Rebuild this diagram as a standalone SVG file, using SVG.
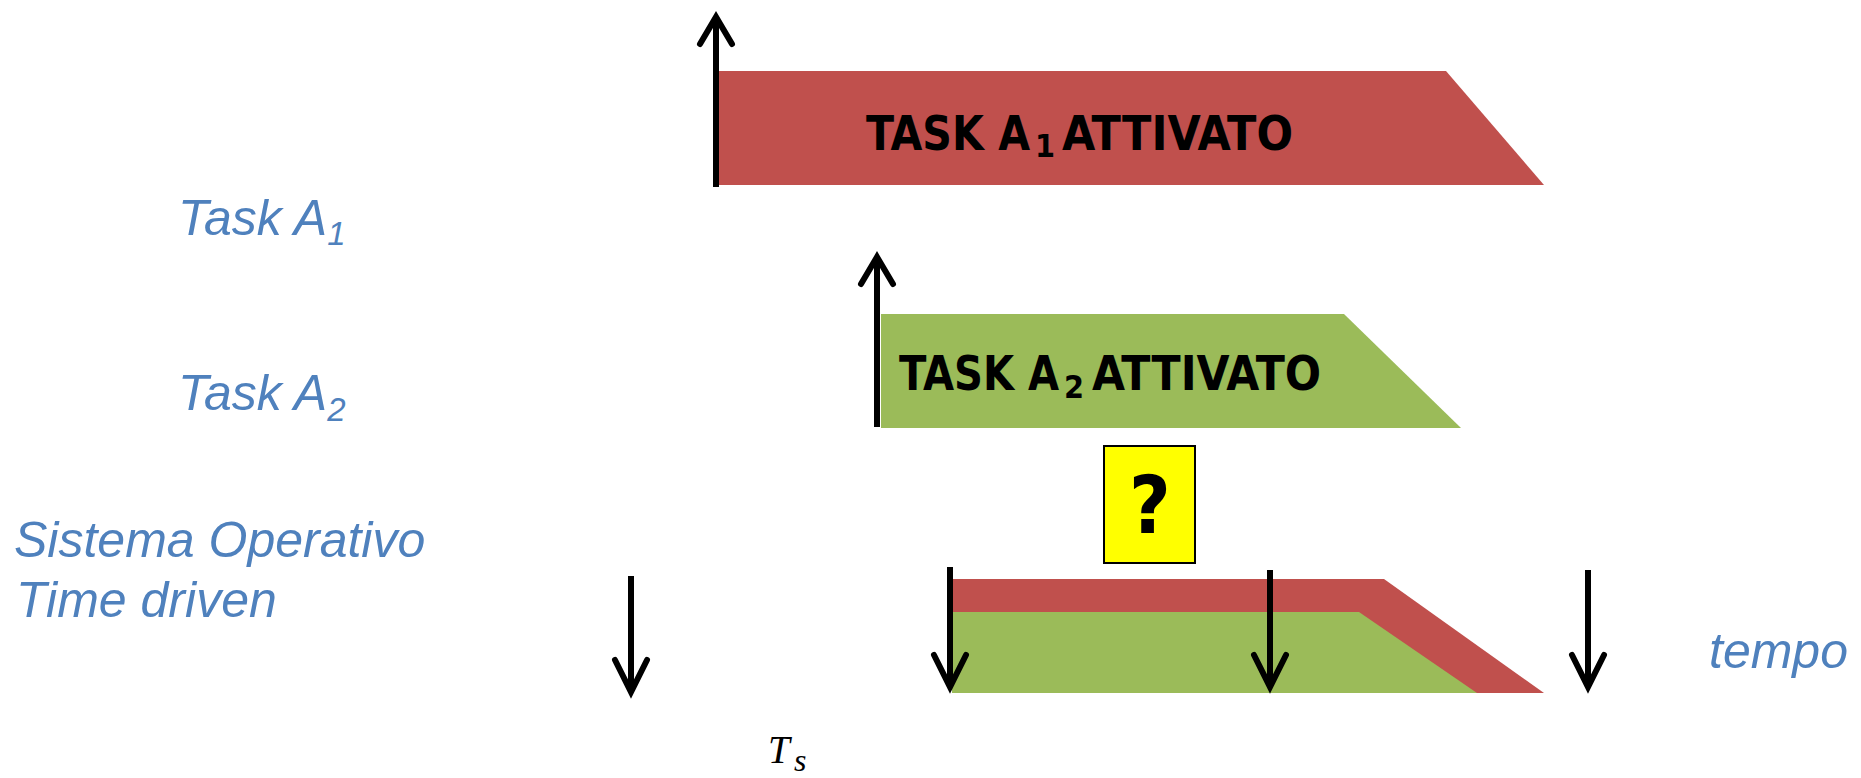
<svg xmlns="http://www.w3.org/2000/svg" width="1861" height="778" viewBox="0 0 1861 778">
  <style>
    .label { font-family: "Liberation Sans", Arial, sans-serif; font-style: italic; fill: #4F81BD; font-size: 50px; }
    .band-text { font-family: "DejaVu Sans Condensed", "DejaVu Sans", sans-serif; font-stretch: condensed; font-weight: bold; fill: #000; font-size: 48px; }
    .band-sub { font-size: 32px; }
    .red { fill: #C0504D; }
    .green { fill: #9BBB59; }
    .shaft { stroke: #000; stroke-width: 6; fill: none; }
    .head { stroke: #000; stroke-width: 6; fill: none; stroke-linecap: round; stroke-linejoin: miter; }
  </style>

  <rect width="1861" height="778" fill="#FFFFFF"/>

  <!-- row labels -->
  <g id="label-task-a1">
    <text class="label" x="178" y="235" font-size="49">Task A<tspan font-size="33" dy="10">1</tspan></text>
  </g>
  <g id="label-task-a2">
    <text class="label" x="178" y="410" font-size="49">Task A<tspan font-size="33" dy="11">2</tspan></text>
  </g>
  <g id="label-os">
    <text class="label" x="14" y="557">Sistema Operativo</text>
    <text class="label" x="16" y="617">Time driven</text>
  </g>
  <g id="label-tempo">
    <text class="label" x="1709" y="668" font-size="49">tempo</text>
  </g>
  <g id="label-ts">
    <text x="768" y="763" font-family="'Liberation Serif', 'Times New Roman', serif" font-style="italic" font-size="39" fill="#000">T</text>
    <text x="794" y="771" font-family="'Liberation Serif', 'Times New Roman', serif" font-style="italic" font-size="32" fill="#000">s</text>
  </g>

  <!-- task A1 activation band -->
  <g id="task-a1">
    <polygon class="red" points="717,71 1446,71 1544,185 717,185"/>
    <text class="band-text" x="866" y="150" textLength="164" lengthAdjust="spacingAndGlyphs">TASK A</text>
    <text class="band-text band-sub" x="1035" y="157">1</text>
    <text class="band-text" x="1062" y="150" textLength="231" lengthAdjust="spacingAndGlyphs">ATTIVATO</text>
  </g>

  <!-- task A2 activation band -->
  <g id="task-a2">
    <polygon class="green" points="881,314 1344,314 1461,428 881,428"/>
    <text class="band-text" x="899" y="390" textLength="160" lengthAdjust="spacingAndGlyphs">TASK A</text>
    <text class="band-text band-sub" x="1064" y="398">2</text>
    <text class="band-text" x="1092" y="390" textLength="229" lengthAdjust="spacingAndGlyphs">ATTIVATO</text>
  </g>

  <!-- operating system execution: both tasks queued -->
  <g id="os-band">
    <polygon class="red" points="952,579 1384,579 1544,693 952,693"/>
    <polygon class="green" points="952,612 1359,612 1477,693 952,693"/>
  </g>

  <!-- conflict marker -->
  <g id="question-box">
    <rect x="1104" y="446" width="91" height="117" fill="#FFFF00" stroke="#000" stroke-width="2"/>
    <text x="1150" y="533" text-anchor="middle" font-family="'DejaVu Sans Condensed', 'DejaVu Sans', sans-serif" font-stretch="condensed" font-weight="bold" font-size="80" fill="#000">?</text>
  </g>

  <!-- activation and tick arrows -->
  <g id="connectors">
    <!-- task activations (up) -->
    <path class="shaft" d="M716 187 V18"/>
    <path class="head" d="M700 44 L716 17 L732 44"/>
    <path class="shaft" d="M877 427 V258"/>
    <path class="head" d="M861 284 L877 257 L893 284"/>
    <!-- periodic OS ticks (down) -->
    <path class="shaft" d="M631 576 V690"/>
    <path class="head" d="M615 660 L631 692 L647 660"/>
    <path class="shaft" d="M950 567 V685"/>
    <path class="head" d="M934 655 L950 687 L966 655"/>
    <path class="shaft" d="M1270 570 V685"/>
    <path class="head" d="M1254 655 L1270 687 L1286 655"/>
    <path class="shaft" d="M1588 570 V685"/>
    <path class="head" d="M1572 655 L1588 687 L1604 655"/>
  </g>
</svg>
